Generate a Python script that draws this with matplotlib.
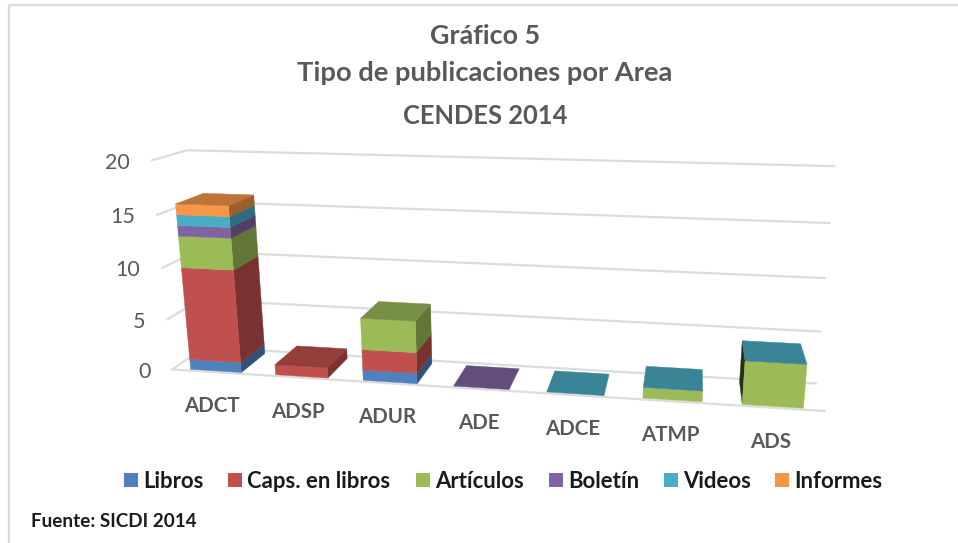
import numpy as np
import matplotlib
matplotlib.use("Agg")
import matplotlib.pyplot as plt
from matplotlib.patches import Polygon, Rectangle

categories = ["ADCT", "ADSP", "ADUR", "ADE", "ADCE", "ATMP", "ADS"]
series_names = ["Libros", "Caps. en libros", "Artículos", "Boletín", "Videos", "Informes"]
nan = float("nan")
libros = [1, nan, 1, nan, nan, nan, nan]
caps = [9, 1, 2, nan, nan, nan, nan]
articulos = [3, nan, 3, nan, nan, 1, 4]
boletin = [1, nan, nan, 0, nan, nan, nan]
videos = [1, nan, nan, nan, 0, 0, 0]
informes = [1, nan, nan, nan, nan, nan, nan]
yticks = [0, 5, 10, 15, 20]
series = [libros, caps, articulos, boletin, videos, informes]
colors = ["#4F81BD", "#C0504D", "#9BBB59", "#8064A2", "#4BACC6", "#F79646"]

W, H = 958, 543
fig = plt.figure(figsize=(W / 100, H / 100), dpi=100)
ax = fig.add_axes([0, 0, 1, 1])
ax.set_xlim(0, W)
ax.set_ylim(H, 0)
ax.axis("off")
plt.rcParams["font.family"] = ["Lato", "DejaVu Sans"]

# Camera: a projective map (category, value, depth) -> figure pixels, fitted
# on the plot box corners and bar corners.
BAR_GAP, Z0, Z1 = 0.2, 0.05, 0.88
calib = [
    ((0, 0, 0), (169, 369)), ((7, 0, 0), (827, 412)), ((0, 0, 1), (205, 347)),
    ((7, 0, 1), (816, 383)), ((0, 20, 0), (150, 161)), ((0, 20, 1), (187, 150)),
    ((7, 20, 1), (835, 166)),
    ((0.2, 16, Z0), (178, 203)), ((0.8, 16, Z0), (230, 206)),
    ((0.8, 16, Z1), (253, 196)), ((0.2, 16, Z1), (203, 193)),
    ((0.8, 0, Z0), (242, 371)),
    ((6.8, 0, Z0), (803, 407)), ((6.2, 4, Z0), (743, 360)), ((6.8, 4, Z0), (806, 363)),
    ((6.2, 4, Z1), (742, 341)), ((6.8, 4, Z1), (800, 344)),
]
for i, px in enumerate([192, 276, 363, 454, 547, 643, 742]):
    f = i + BAR_GAP
    calib.append(((f, 0, Z0), (px, 369 + (px - 169) * 0.0653 - 1)))
A = []
for (x, y, z), (u, v) in calib:
    A.append([x, y, z, 1, 0, 0, 0, 0, -u * x, -u * y, -u * z, -u])
    A.append([0, 0, 0, 0, x, y, z, 1, -v * x, -v * y, -v * z, -v])
A = np.array(A, float)
scale = np.array([1, 1, 1, 1, 1, 1, 1, 1, 100, 100, 100, 100.0])
P = np.linalg.svd(A / scale)[2][-1] / scale
P = P.reshape(3, 4)


def proj(x, y, z):
    h = P @ np.array([x, y, z, 1.0])
    return h[0] / h[2], h[1] / h[2]


# Gridlines
grid = "#DCDCDC"
for t in yticks:
    pts = [proj(0, t, 0), proj(0, t, 1), proj(7, t, 1)]
    ax.plot(*zip(*pts), color=grid, lw=1.6, solid_joinstyle="miter", zorder=1)
    fx, fy = proj(0, t, 0)
    ax.text(fx - 22, fy + 2.5, str(t), ha="right", va="center", fontsize=15.5,
            color="#595959")
ax.plot(*zip(proj(0, 0, 0), proj(7, 0, 0)), color=grid, lw=1.6, zorder=1)


def shade(c, f):
    r = np.array(matplotlib.colors.to_rgb(c)) * f
    return tuple(r)


def face(pts, col, z):
    ax.add_patch(Polygon(pts, closed=True, facecolor=col, edgecolor=col, lw=0.3, zorder=z))


# Bars
z = 3.0
for i in range(len(categories)):
    x0, x1 = i + BAR_GAP, i + 1 - BAR_GAP
    base = 0.0
    top_color = None
    for s, vals in enumerate(series):
        v = vals[i]
        if v != v:
            continue
        top_color = colors[s]
        if v == 0:
            continue
        y0, y1 = base, base + v
        fr_l = proj(x0, y0, Z0)[0]
        bk_l = proj(x0, y0, Z1)[0]
        fr_r = proj(x1, y0, Z0)[0]
        bk_r = proj(x1, y0, Z1)[0]
        if bk_r > fr_r:
            face([proj(x1, y0, Z0), proj(x1, y0, Z1), proj(x1, y1, Z1), proj(x1, y1, Z0)],
                 shade(colors[s], 0.63), z)
        if bk_l < fr_l:
            face([proj(x0, y0, Z0), proj(x0, y0, Z1), proj(x0, y1, Z1), proj(x0, y1, Z0)],
                 shade(colors[s], 0.25), z)
        face([proj(x0, y0, Z0), proj(x1, y0, Z0), proj(x1, y1, Z0), proj(x0, y1, Z0)],
             colors[s], z + 0.1)
        base = y1
    face([proj(x0, base, Z0), proj(x1, base, Z0), proj(x1, base, Z1), proj(x0, base, Z1)],
         shade(top_color, 0.77), z + 0.2)
    fx, fy = proj(i + 0.5, 0, 0)
    ax.text(fx - 2, fy + 34, categories[i], ha="center", va="center", fontsize=14.8,
            fontweight="bold", color="#595959")
    z += 1

# Titles
for txt, yy, fs in [("Gráfico 5", 36.5, 19.4), ("Tipo de publicaciones por Area", 73, 19.7),
                    ("CENDES 2014", 116, 18.4)]:
    ax.text(485, yy, txt, ha="center", va="center", fontsize=fs, fontweight="bold",
            color="#595959")

# Legend
swatch_x = [124, 228, 416, 549, 664, 775]
for name, c, sx in zip(series_names, colors, swatch_x):
    ax.add_patch(Rectangle((sx, 473), 14, 14, facecolor=c, edgecolor="none", zorder=5))
    ax.text(sx + 19, 481.5, name, ha="left", va="center", fontsize=15.9, fontweight="bold",
            color="#1A1A1A")

ax.text(31, 521.5, "Fuente: SICDI 2014", ha="left", va="center", fontsize=13.6,
        fontweight="bold", color="#1A1A1A")

# Chart frame: only the top and left edges fall inside the picture
ax.add_patch(Rectangle((9, 5), W, H, fill=False, edgecolor="#D9D9D9", lw=1.6, zorder=0))

fig.savefig("out.png", dpi=100)
